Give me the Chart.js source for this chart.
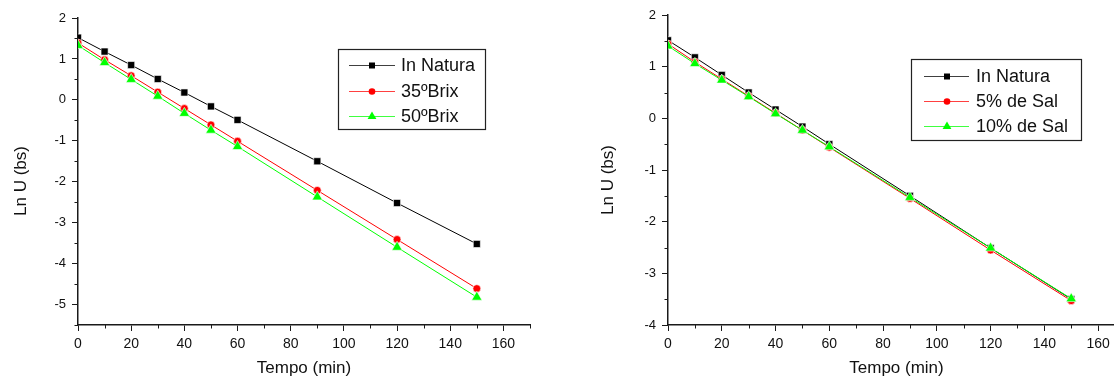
<!DOCTYPE html>
<html>
<head>
<meta charset="utf-8">
<script src="https://cdn.jsdelivr.net/npm/chart.js@4.4.1/dist/chart.umd.min.js"></script>
<style>
  html, body { margin:0; padding:0; background:#fff; overflow:hidden; width:1114px; height:379px; }
  #c1 { position:absolute; left:0; top:0; }
  #c2 { position:absolute; left:557px; top:0; }
</style>
</head>
<body>
<canvas id="c1" width="557" height="379"></canvas>
<canvas id="c2" width="580" height="379"></canvas>
<script>
// ---- data ----
const tempo = [0, 10, 20, 30, 40, 50, 60, 90, 120, 150];

// left chart
const inNaturaA = [1.52, 1.18, 0.85, 0.51, 0.18, -0.16, -0.49, -1.50, -2.52, -3.52];
const brix35    = [1.39, 0.98, 0.59, 0.19, -0.21, -0.61, -1.01, -2.21, -3.41, -4.61];
const brix50    = [1.33, 0.91, 0.50, 0.09, -0.33, -0.74, -1.14, -2.37, -3.60, -4.82];

// right chart
const inNaturaB = [1.51, 1.18, 0.84, 0.50, 0.17, -0.16, -0.50, -1.50, -2.51, -3.50];
const sal5      = [1.44, 1.09, 0.76, 0.43, 0.10, -0.23, -0.56, -1.55, -2.55, -3.53];
const sal10     = [1.40, 1.06, 0.74, 0.42, 0.09, -0.23, -0.55, -1.53, -2.51, -3.49];

const labelsA = ['In Natura', '35ºBrix', '50ºBrix'];
const labelsB = ['In Natura', '5% de Sal', '10% de Sal'];
const xTitle = 'Tempo (min)';
const yTitle = 'Ln U (bs)';

const xTickValues = [0, 20, 40, 60, 80, 100, 120, 140, 160];
const yTickValuesA = [-5, -4, -3, -2, -1, 0, 1, 2];
const yTickValuesB = [-4, -3, -2, -1, 0, 1, 2];

// ---- styles ----
const FONT = "'Liberation Sans', Arial, sans-serif";
const AX = '#1a1a1a';
const styles = [
  { color: '#000000', pointStyle: 'rect', radius: 5.0 },
  { color: '#ff0000', pointStyle: 'circle', radius: 3.9 },
  { color: '#00ff00', pointStyle: 'triangle', radius: 6.0 }
];

function mkDatasets(labels, series) {
  return series.map((vals, i) => ({
    label: labels[i],
    data: tempo.map((t, k) => ({ x: t, y: vals[k] })),
    borderColor: styles[i].color,
    backgroundColor: styles[i].color,
    borderWidth: 1,
    pointStyle: styles[i].pointStyle,
    pointRadius: styles[i].radius,
    pointBackgroundColor: styles[i].color,
    pointBorderColor: '#ffffff',
    pointBorderWidth: 0.6,
    tension: 0,
    order: 2 - i
  }));
}

function drawMarker(ctx, style, x, y, r, color) {
  ctx.save();
  ctx.fillStyle = color;
  ctx.beginPath();
  if (style === 'rect') {
    const s = Math.SQRT1_2 * r;
    ctx.rect(x - s, y - s, 2 * s, 2 * s);
  } else if (style === 'circle') {
    ctx.arc(x, y, r, 0, Math.PI * 2);
  } else {
    let rad = 0;
    ctx.moveTo(x + Math.sin(rad) * r, y - Math.cos(rad) * r);
    rad += 2 * Math.PI / 3;
    ctx.lineTo(x + Math.sin(rad) * r, y - Math.cos(rad) * r);
    rad += 2 * Math.PI / 3;
    ctx.lineTo(x + Math.sin(rad) * r, y - Math.cos(rad) * r);
    ctx.closePath();
  }
  ctx.fill();
  ctx.restore();
}

const extras = {
  id: 'extras',
  afterDraw(chart, args, opts) {
    const ctx = chart.ctx;
    const xs = chart.scales.x, ys = chart.scales.y;
    // minor ticks
    ctx.save();
    ctx.strokeStyle = AX;
    ctx.lineWidth = 1;
    for (let v = 10; v <= xs.max + 1e-9; v += 20) {
      const px = Math.round(xs.getPixelForValue(v)) + 0.5;
      ctx.beginPath();
      ctx.moveTo(px, chart.chartArea.bottom);
      ctx.lineTo(px, chart.chartArea.bottom + 3.5);
      ctx.stroke();
    }
    for (let v = Math.ceil(ys.min) - 0.5; v <= ys.max; v += 1) {
      if (v < ys.min - 1e-9) continue;
      const py = Math.round(ys.getPixelForValue(v)) + 0.5;
      ctx.beginPath();
      ctx.moveTo(chart.chartArea.left, py);
      ctx.lineTo(chart.chartArea.left - 3.5, py);
      ctx.stroke();
    }
    ctx.restore();

    // y title
    ctx.save();
    ctx.fillStyle = '#111';
    ctx.font = '17px ' + FONT;
    ctx.textAlign = 'center';
    ctx.textBaseline = 'middle';
    ctx.translate(opts.yTitleX, opts.yTitleY);
    ctx.rotate(-Math.PI / 2);
    ctx.fillText(yTitle, 0, 0);
    ctx.restore();

    // legend
    const L = opts.legend;
    ctx.save();
    ctx.fillStyle = '#fff';
    ctx.fillRect(L.x0, L.y0, L.x1 - L.x0, L.y1 - L.y0);
    ctx.strokeStyle = '#222';
    ctx.lineWidth = 1.2;
    ctx.strokeRect(L.x0, L.y0, L.x1 - L.x0, L.y1 - L.y0);
    chart.data.datasets.forEach((ds, i) => {
      const y = L.rows[i];
      ctx.strokeStyle = ds.borderColor;
      ctx.globalAlpha = 0.75;
      ctx.lineWidth = 1;
      ctx.beginPath();
      ctx.moveTo(L.lx0, y + 0.5);
      ctx.lineTo(L.lx1, y + 0.5);
      ctx.stroke();
      ctx.globalAlpha = 1;
      drawMarker(ctx, ds.pointStyle, L.mx, y + 0.5, ds.pointRadius * 0.85, ds.pointBackgroundColor);
      ctx.fillStyle = '#111';
      ctx.font = '18px ' + FONT;
      ctx.textAlign = 'left';
      ctx.textBaseline = 'middle';
      ctx.fillText(ds.label, L.tx, y + 1);
    });
    ctx.restore();
  }
};

function mkOptions(yMin, yTicks, padding, yAxisWidth, extraOpts) {
  return {
    responsive: false,
    animation: false,
    events: [],
    layout: { padding: padding },
    plugins: { legend: { display: false }, tooltip: { enabled: false }, extras: extraOpts },
    scales: {
      x: {
        type: 'linear',
        min: 0, max: 170,
        afterBuildTicks: (s) => { s.ticks = xTickValues.map(v => ({ value: v })); },
        afterFit: (s) => { s.height = 54; },
        ticks: { color: '#111', font: { family: FONT, size: 14 }, padding: 5, maxRotation: 0, autoSkip: false },
        grid: { drawOnChartArea: false, drawTicks: true, tickLength: 6, tickColor: AX, tickWidth: 1 },
        border: { display: true, color: AX, width: 1.5 },
        title: { display: true, text: xTitle, color: '#111', font: { family: FONT, size: 17 }, padding: { top: 0, bottom: 0 } }
      },
      y: {
        type: 'linear',
        min: yMin, max: 2,
        afterBuildTicks: (s) => { s.ticks = yTicks.map(v => ({ value: v })); },
        afterFit: (s) => { s.width = yAxisWidth; },
        ticks: { color: '#111', font: { family: FONT, size: 13 }, padding: 6, autoSkip: false },
        grid: { drawOnChartArea: false, drawTicks: true, tickLength: 6, tickColor: AX, tickWidth: 1 },
        border: { display: true, color: AX, width: 1.5 },
        title: { display: false }
      }
    }
  };
}

new Chart(document.getElementById('c1'), {
  type: 'line',
  data: { datasets: mkDatasets(labelsA, [inNaturaA, brix35, brix50]) },
  options: mkOptions(-5.5, yTickValuesA, { top: 18, right: 27, left: 0, bottom: 0 }, 78, {
    yTitleX: 21, yTitleY: 181,
    legend: { x0: 338.5, y0: 49.5, x1: 485.5, y1: 129.5, rows: [65, 91, 116], lx0: 349, lx1: 395, mx: 372, tx: 401 }
  }),
  plugins: [extras]
});

new Chart(document.getElementById('c2'), {
  type: 'line',
  data: { datasets: mkDatasets(labelsB, [inNaturaB, sal5, sal10]) },
  options: mkOptions(-4, yTickValuesB, { top: 15, right: 12, left: 0, bottom: 0 }, 111, {
    yTitleX: 51, yTitleY: 180,
    legend: { x0: 354.5, y0: 59.5, x1: 524.5, y1: 140.5, rows: [76, 101, 126], lx0: 367, lx1: 412, mx: 390, tx: 419 }
  }),
  plugins: [extras]
});
</script>
</body>
</html>
